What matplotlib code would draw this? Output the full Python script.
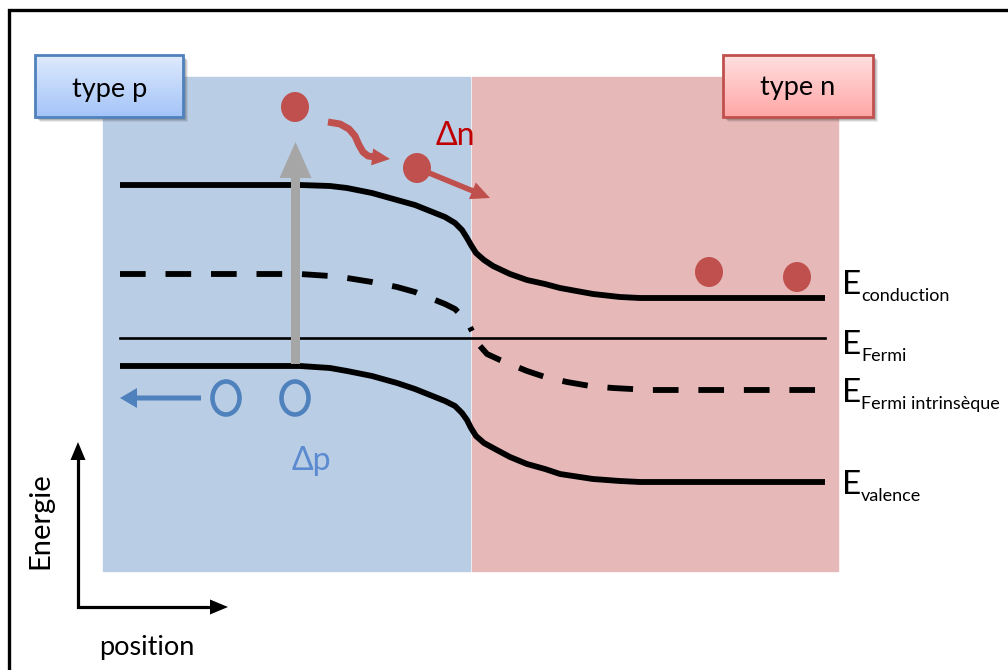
import numpy as np
import matplotlib.pyplot as plt
from matplotlib.patches import Rectangle, Ellipse, FancyArrow

plt.rcParams['font.family'] = ['Lato', 'DejaVu Sans']

# bandes d'energie (x, y en pixels de l'image, y vers le bas)
cond_x = [120, 300, 330, 347, 372, 397, 415, 430, 445, 455, 462, 467, 471, 476, 484, 493, 510, 527, 545, 560, 593, 620, 640, 825]
cond_y = [185, 185, 186, 188, 193, 200, 205, 211, 217, 223, 230, 238, 245, 253, 260, 266, 274, 280, 284, 288, 294, 297, 298, 298]
val_x = [120, 300, 330, 347, 372, 397, 415, 430, 445, 455, 462, 467, 471, 476, 484, 495, 510, 527, 545, 560, 593, 620, 640, 825]
val_y = [366, 366, 368, 371, 376, 383, 389, 395, 401, 406, 413, 420, 428, 436, 443, 449, 457, 464, 469, 474, 479, 481, 482, 482]
intr_left_x = [120, 300, 330, 347, 372, 397, 415, 430, 445, 455, 463, 469, 472]
intr_left_y = [274, 274, 276, 278, 282, 287, 292, 298, 304, 309, 317, 325, 331]
intr_right_x = [480, 487, 500, 527, 545, 567, 590, 613, 650, 825]
intr_right_y = [346, 354, 360, 371, 377, 382, 386, 388, 390, 390]
fermi_x = [120, 825]
fermi_y = [338, 338]

# electrons (rouge) et trous (bleu)
electron_x = [295, 417, 709, 797]
electron_y = [107, 168, 272, 277]
hole_x = [226, 295]
hole_y = [398, 398]

# fleche ondulee (electron qui descend)
wave_x = [328, 340, 349, 355, 359, 363, 368, 375]
wave_y = [122, 124, 129, 136, 145, 152, 156, 157]

band_labels = ['conduction', 'Fermi', 'Fermi intrinsèque', 'valence']
band_label_y = [294, 354, 402, 494]

blue = '#4f81bd'
red = '#c0504d'

fig = plt.figure(figsize=(10.08, 6.70), dpi=100)
ax = fig.add_axes([0, 0, 1, 1])

# zones p et n
ax.add_patch(Rectangle((103, 77), 367, 494, color='#b9cde5', zorder=0))
ax.add_patch(Rectangle((472, 77), 366, 494, color='#e6b9b8', zorder=0))

# cadre exterieur
ax.plot([9, 9, 1008], [672, 10, 10], color='black', lw=2.4, solid_joinstyle='miter', zorder=1)


def label_box(x0, y0, w, h, top, bottom, edge, text, tx, ty):
    for i, a in enumerate([0.10, 0.15, 0.20]):
        d = 5 - i
        ax.add_patch(Rectangle((x0 + d, y0 + d), w, h, color='#404040', alpha=a, lw=0, zorder=3))
    grad = np.linspace(0, 1, 64)[:, None, None]
    img = np.array(top)[None, None, :] * (1 - grad) + np.array(bottom)[None, None, :] * grad
    ax.imshow(img / 255.0, extent=[x0, x0 + w, y0 + h, y0], aspect='auto', zorder=4, interpolation='bilinear')
    ax.add_patch(Rectangle((x0, y0), w, h, fill=False, ec=edge, lw=2, zorder=5))
    ax.text(tx, ty, text, fontsize=19.5, ha='center', va='baseline', color='black', zorder=6)


label_box(35, 55, 148, 62, (222, 234, 253), (164, 196, 248), blue, 'type p', 110, 97)
label_box(723, 55, 150, 62, (255, 224, 224), (255, 166, 166), red, 'type n', 798, 95)

# bandes
ax.plot(cond_x, cond_y, color='black', lw=4.2, solid_capstyle='butt', solid_joinstyle='round', zorder=2)
ax.plot(val_x, val_y, color='black', lw=4.2, solid_capstyle='butt', solid_joinstyle='round', zorder=2)
ax.plot(fermi_x, fermi_y, color='black', lw=1.9, zorder=2)
ax.plot(intr_left_x, intr_left_y, color='black', lw=4.2, dashes=(4.4, 3.4), dash_capstyle='butt', zorder=2)
ax.plot(intr_right_x, intr_right_y, color='black', lw=4.2, dashes=(4.4, 3.4), dash_capstyle='butt', zorder=2)

# fleche grise (excitation)
ax.add_patch(FancyArrow(295.5, 364, 0, 142 - 364, width=9, head_width=32, head_length=36,
                        length_includes_head=True, color='#a6a6a6', lw=0, zorder=3))

# electrons
for x, y in zip(electron_x, electron_y):
    ax.add_patch(Ellipse((x, y), 28, 30, color=red, lw=0, zorder=4))

# fleches rouges
ax.plot(wave_x, wave_y, color=red, lw=5, solid_capstyle='butt', solid_joinstyle='round', zorder=3)
ax.add_patch(FancyArrow(373, 157, 17, 2, width=0.1, head_width=17, head_length=18,
                        length_includes_head=True, color=red, lw=0, zorder=3))
ax.add_patch(FancyArrow(electron_x[1], electron_y[1], 490 - electron_x[1], 198 - electron_y[1], width=5.5,
                        head_width=18, head_length=19, length_includes_head=True, color=red, lw=0, zorder=3))

# trous
for x, y in zip(hole_x, hole_y):
    ax.add_patch(Ellipse((x, y), 27, 33, fill=False, ec=blue, lw=3.3, zorder=4))
ax.add_patch(FancyArrow(201, 398, 120 - 201, 0, width=5, head_width=20, head_length=17,
                        length_includes_head=True, color=blue, lw=0, zorder=3))

ax.text(436, 145, 'Δn', fontsize=23, color='#c00000', ha='left', va='baseline', zorder=6)
ax.text(292, 470, 'Δp', fontsize=23, color='#5b8ad0', ha='left', va='baseline', zorder=6)

# noms des niveaux
for name, y in zip(band_labels, band_label_y):
    ax.text(842, y, 'E', fontsize=24, ha='left', va='baseline', zorder=6)
    ax.text(861, y + 7, name, fontsize=13, ha='left', va='baseline', zorder=6)

# axes energie / position
ax.plot([78, 78, 212], [444 + 15, 607, 607], color='black', lw=2.3, solid_joinstyle='miter', zorder=2)
ax.add_patch(FancyArrow(78, 462, 0, -20, width=0.1, head_width=15, head_length=18,
                        length_includes_head=True, color='black', lw=0, zorder=3))
ax.add_patch(FancyArrow(210, 607, 18, 0, width=0.1, head_width=15, head_length=18,
                        length_includes_head=True, color='black', lw=0, zorder=3))
ax.text(40, 521, 'Energie', fontsize=21, rotation=90, ha='center', va='center')
ax.text(147, 647, 'position', fontsize=19.5, ha='center', va='center')

ax.set_xlim(0, 1008)
ax.set_ylim(670, 0)
ax.axis('off')

plt.savefig('out.png', dpi=100)
